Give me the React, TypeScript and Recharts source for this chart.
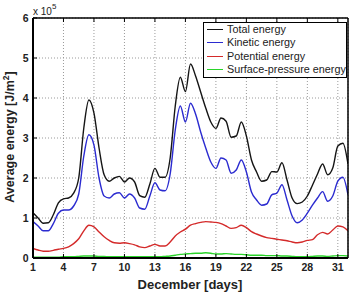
import React from 'react';
import { LineChart, Line, XAxis, YAxis, CartesianGrid, Legend } from 'recharts';

// Daily-averaged energy, December, half-day steps (units of 10^5 J/m^2)
const days = [
  1, 1.5, 2, 2.5, 3, 3.5, 4, 4.5, 5, 5.5, 6, 6.5, 7, 7.5, 8, 8.5, 9, 9.5, 10, 10.5,
  11, 11.5, 12, 12.5, 13, 13.5, 14, 14.5, 15, 15.5, 16, 16.5, 17, 17.5, 18, 18.5, 19, 19.5, 20, 20.5,
  21, 21.5, 22, 22.5, 23, 23.5, 24, 24.5, 25, 25.5, 26, 26.5, 27, 27.5, 28, 28.5, 29, 29.5, 30, 30.5,
  31, 31.5, 32,
];

const totalEnergy = [
  1.13, 1.0, 0.87, 0.88, 1.08, 1.38, 1.48, 1.5, 1.62, 2.0, 3.25, 3.95, 3.62, 2.75, 2.08, 1.92, 2.0, 2.04, 1.9, 2.0,
  1.9, 1.56, 1.52, 1.85, 2.24, 2.02, 2.02, 2.5, 3.8, 4.52, 4.16, 4.85, 4.55, 4.15, 3.75, 3.4, 3.24, 3.5, 3.42, 3.02,
  3.05, 3.4, 3.05, 2.45, 2.15, 1.92, 1.95, 2.16, 2.15, 2.38, 1.95, 1.5, 1.36, 1.4, 1.55, 1.82, 2.1, 2.35, 2.08, 2.25,
  2.8, 2.87, 2.35,
];

const kineticEnergy = [
  0.91, 0.8, 0.68, 0.68, 0.86, 1.12, 1.2, 1.2, 1.3, 1.6, 2.55, 3.08, 2.82, 2.0, 1.55, 1.5, 1.6, 1.63, 1.5, 1.6,
  1.5, 1.25, 1.22, 1.55, 1.88, 1.7, 1.68, 2.1, 3.2, 3.8, 3.4, 3.87, 3.6, 3.15, 2.75, 2.4, 2.24, 2.5, 2.45, 2.12,
  2.2, 2.45, 2.15, 1.65, 1.45, 1.32, 1.35, 1.58, 1.62, 1.83, 1.45, 1.05, 0.88, 0.95, 1.12, 1.32, 1.5, 1.66, 1.42, 1.55,
  1.92, 2.02, 1.58,
];

const potentialEnergy = [
  0.24, 0.2, 0.17, 0.17, 0.19, 0.22, 0.24, 0.28, 0.36, 0.48, 0.68, 0.82, 0.78, 0.65, 0.53, 0.44, 0.38, 0.37, 0.38, 0.36,
  0.33, 0.28, 0.26, 0.3, 0.34, 0.3, 0.3, 0.4, 0.55, 0.65, 0.72, 0.82, 0.86, 0.89, 0.91, 0.9, 0.89, 0.86, 0.8, 0.74,
  0.76, 0.82, 0.76, 0.66, 0.6, 0.55, 0.51, 0.49, 0.47, 0.45, 0.43, 0.4, 0.38, 0.4, 0.44, 0.46, 0.58, 0.64, 0.6, 0.7,
  0.8, 0.78, 0.68,
];

const surfaceEnergy = [
  0.02, 0.02, 0.02, 0.02, 0.02, 0.02, 0.03, 0.03, 0.03, 0.04, 0.05, 0.05, 0.05, 0.04, 0.04, 0.03, 0.03, 0.03, 0.03, 0.03,
  0.03, 0.03, 0.03, 0.03, 0.03, 0.03, 0.04, 0.05, 0.07, 0.09, 0.1, 0.11, 0.12, 0.12, 0.13, 0.12, 0.1, 0.1, 0.11, 0.1,
  0.09, 0.09, 0.08, 0.07, 0.07, 0.07, 0.06, 0.06, 0.06, 0.05, 0.05, 0.04, 0.03, 0.03, 0.03, 0.04, 0.05, 0.05, 0.04, 0.05,
  0.06, 0.06, 0.05,
];

const dayTicks = [1, 4, 7, 10, 13, 16, 19, 22, 25, 28, 31];
const energyTicks = [0, 1, 2, 3, 4, 5, 6];

const series = [
  { key: 'total', name: 'Total energy', color: '#151515' },
  { key: 'kinetic', name: 'Kinetic energy', color: '#2b2bd0' },
  { key: 'potential', name: 'Potential energy', color: '#d42a2a' },
  { key: 'surface', name: 'Surface-pressure energy', color: '#2ad42a' },
];

const data = days.map((day, i) => ({
  day,
  total: totalEnergy[i],
  kinetic: kineticEnergy[i],
  potential: potentialEnergy[i],
  surface: surfaceEnergy[i],
}));

const FONT = '"Liberation Sans", Arial, Helvetica, sans-serif';

// MATLAB-style ticks: marks point into the plot box
const BottomTick = ({ x, y, payload }: any) => (
  <g>
    <line x1={x} x2={x} y1={y} y2={y - 4} stroke="#000" strokeWidth={1} />
    <text x={x} y={y + 13} textAnchor="middle" fontSize={10.5} fontWeight="bold" fill="#222" fontFamily={FONT}>
      {payload.value}
    </text>
  </g>
);

const TopTick = ({ x, y }: any) => <line x1={x} x2={x} y1={y} y2={y + 4} stroke="#000" strokeWidth={1} />;

const LeftTick = ({ x, y, payload }: any) => (
  <g>
    <line x1={x} x2={x + 4} y1={y} y2={y} stroke="#000" strokeWidth={1} />
    <text x={x - 4.5} y={y + 3.8} textAnchor="end" fontSize={10.5} fontWeight="bold" fill="#222" fontFamily={FONT}>
      {payload.value}
    </text>
  </g>
);

const RightTick = ({ x, y }: any) => <line x1={x - 4} x2={x} y1={y} y2={y} stroke="#000" strokeWidth={1} />;

// keep legend rows in series order rather than alphabetical
const orderOf = (name: string) => series.findIndex((s) => s.name === name);

const LegendBox = ({ payload }: any) => {
  const rows = [...(payload || [])].sort((a: any, b: any) => orderOf(a.value) - orderOf(b.value));
  return (
    <div
      style={{
        width: 144,
        height: 56,
        boxSizing: 'border-box',
        border: '1.5px solid #000',
        background: '#fff',
        fontFamily: FONT,
        fontSize: 10.8,
        color: '#222',
      }}
    >
      {rows.map((entry: any) => (
        <div key={entry.value} style={{ display: 'flex', alignItems: 'center', height: 13.3, lineHeight: '13px' }}>
          <span style={{ width: 16, borderTop: `1.5px solid ${entry.color}`, marginLeft: 3, marginRight: 4 }} />
          <span>{entry.value}</span>
        </div>
      ))}
    </div>
  );
};

export default function App() {
  return (
    <div style={{ position: 'relative', width: 351, height: 293, background: '#fff' }}>
      <style>{'body{margin:0}'}</style>
      <LineChart width={351} height={293} data={data} margin={{ top: 17, right: 0, bottom: 15, left: 0 }}>
        <CartesianGrid stroke="#9a9a9a" strokeDasharray="1 2" />
        <XAxis
          dataKey="day"
          type="number"
          domain={[1, 32]}
          ticks={dayTicks}
          height={20}
          tickSize={0}
          tickMargin={0}
          tick={BottomTick}
          axisLine={{ stroke: '#000', strokeWidth: 2 }}
          allowDataOverflow
        />
        <XAxis
          xAxisId="top"
          orientation="top"
          dataKey="day"
          type="number"
          domain={[1, 32]}
          ticks={dayTicks}
          height={1}
          tickSize={0}
          tickMargin={0}
          tick={TopTick}
          axisLine={{ stroke: '#000', strokeWidth: 1.5 }}
        />
        <YAxis
          type="number"
          domain={[0, 6]}
          ticks={energyTicks}
          width={33}
          tickSize={0}
          tickMargin={0}
          tick={LeftTick}
          axisLine={{ stroke: '#000', strokeWidth: 2 }}
        />
        <YAxis
          yAxisId="right"
          orientation="right"
          type="number"
          domain={[0, 6]}
          ticks={energyTicks}
          width={3}
          tickSize={0}
          tickMargin={0}
          tick={RightTick}
          axisLine={{ stroke: '#000', strokeWidth: 1.5 }}
        />
        {series.map((s) => (
          <Line
            key={s.key}
            type="monotone"
            dataKey={s.key}
            name={s.name}
            stroke={s.color}
            strokeWidth={1.4}
            dot={false}
            activeDot={false}
            isAnimationActive={false}
          />
        ))}
        <Legend
          layout="vertical"
          align="center"
          verticalAlign="middle"
          content={LegendBox}
          wrapperStyle={{ left: 203, top: 22, width: 144, height: 56 }}
        />
      </LineChart>
      <svg
        width={351}
        height={293}
        style={{ position: 'absolute', left: 0, top: 0, pointerEvents: 'none' }}
        fontFamily={FONT}
      >
        <text x={33} y={15} fontSize={10} fill="#222">
          x 10
          <tspan dy={-6} fontSize={8}>5</tspan>
        </text>
        <text transform="translate(14,137) rotate(-90)" textAnchor="middle" fontSize={12.5} fontWeight="bold" fill="#222">
          Average energy [J/m
          <tspan dy={-5} fontSize={8.5}>2</tspan>
          <tspan dy={5}>]</tspan>
        </text>
        <text x={190} y={289} textAnchor="middle" fontSize={13} fontWeight="bold" fill="#222">
          December [days]
        </text>
      </svg>
    </div>
  );
}
